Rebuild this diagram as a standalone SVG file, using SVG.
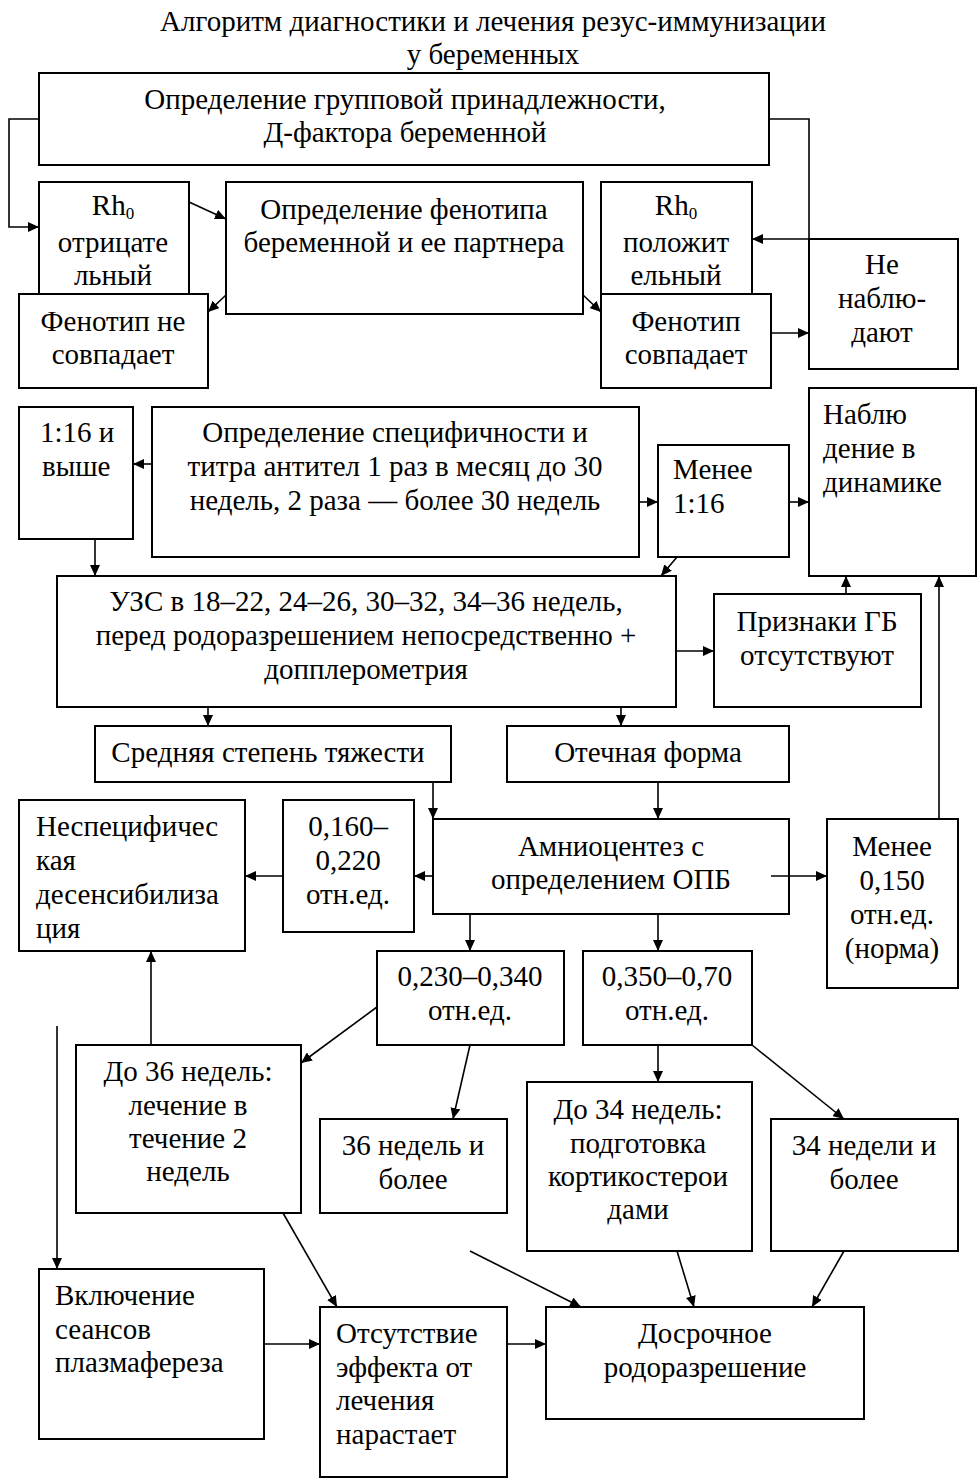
<svg xmlns="http://www.w3.org/2000/svg" width="979" height="1483" viewBox="0 0 979 1483">
<style>
rect{fill:#fff;stroke:#000;stroke-width:2}
text{font-family:"Liberation Serif","Times New Roman",serif;font-size:29px;fill:#000}
.c{text-anchor:middle}
#conn path{fill:none;stroke:#000;stroke-width:1.6;marker-end:url(#ah)}
</style>
<defs>
<marker id="ah" markerUnits="userSpaceOnUse" markerWidth="12" markerHeight="10" refX="11" refY="5" orient="auto">
<path d="M0,0 L11,5 L0,10 z" fill="#000"/>
</marker>
</defs>
<rect x="0" y="0" width="979" height="1483" style="stroke:none"/>
<g id="title">
<text class="c" x="493" y="31">Алгоритм диагностики и лечения резус-иммунизации</text>
<text class="c" x="493" y="64">у беременных</text>
</g>
<g id="n1"><rect x="39" y="73" width="730" height="92"/>
<text class="c" x="405" y="109">Определение групповой принадлежности,</text>
<text class="c" x="405" y="142">Д-фактора беременной</text></g>
<g id="n2"><rect x="39" y="182" width="150" height="112"/>
<text class="c" x="113" y="215">Rh<tspan font-size="17" dy="4">0</tspan></text>
<text class="c" x="113" y="252">отрицате</text>
<text class="c" x="113" y="285">льный</text></g>
<g id="n3"><rect x="19" y="294" width="189" height="94"/>
<text class="c" x="113" y="331">Фенотип не</text>
<text class="c" x="113" y="364">совпадает</text></g>
<g id="n4"><rect x="226" y="182" width="357" height="132"/>
<text class="c" x="404" y="219">Определение фенотипа</text>
<text class="c" x="404" y="252">беременной и ее партнера</text></g>
<g id="n5"><rect x="601" y="182" width="151" height="112"/>
<text class="c" x="676" y="215">Rh<tspan font-size="17" dy="4">0</tspan></text>
<text class="c" x="676" y="252">положит</text>
<text class="c" x="676" y="285">ельный</text></g>
<g id="n6"><rect x="601" y="294" width="170" height="94"/>
<text class="c" x="686" y="331">Фенотип</text>
<text class="c" x="686" y="364">совпадает</text></g>
<g id="n7"><rect x="809" y="239" width="149" height="130"/>
<text class="c" x="882" y="274">Не</text>
<text class="c" x="882" y="308">наблю-</text>
<text class="c" x="882" y="342">дают</text></g>
<g id="n8"><rect x="19" y="407" width="114" height="132"/>
<text x="40" y="442">1:16 и</text>
<text x="42" y="476">выше</text></g>
<g id="n9"><rect x="152" y="407" width="487" height="150"/>
<text class="c" x="395" y="442">Определение специфичности и</text>
<text class="c" x="395" y="476">титра антител 1 раз в месяц до 30</text>
<text class="c" x="395" y="510">недель, 2 раза — более 30 недель</text></g>
<g id="n10"><rect x="658" y="445" width="131" height="112"/>
<text x="673" y="479">Менее</text>
<text x="673" y="513">1:16</text></g>
<g id="n11"><rect x="809" y="388" width="167" height="188"/>
<text x="823" y="424">Наблю</text>
<text x="823" y="458">дение в</text>
<text x="823" y="492">динамике</text></g>
<g id="n12"><rect x="57" y="576" width="619" height="131"/>
<text class="c" x="366" y="611">УЗС в 18–22, 24–26, 30–32, 34–36 недель,</text>
<text class="c" x="366" y="645">перед родоразрешением непосредственно +</text>
<text class="c" x="366" y="679">допплерометрия</text></g>
<g id="n13"><rect x="714" y="594" width="207" height="113"/>
<text class="c" x="817" y="631">Признаки ГБ</text>
<text class="c" x="817" y="665">отсутствуют</text></g>
<g id="n14"><rect x="95" y="726" width="356" height="56"/>
<text class="c" x="268" y="762">Средняя степень тяжести</text></g>
<g id="n15"><rect x="507" y="726" width="282" height="56"/>
<text class="c" x="648" y="762">Отечная форма</text></g>
<g id="n16"><rect x="19" y="800" width="226" height="151"/>
<text x="36" y="836">Неспецифичес</text>
<text x="36" y="870">кая</text>
<text x="36" y="904">десенсибилиза</text>
<text x="36" y="938">ция</text></g>
<g id="n17"><rect x="283" y="800" width="131" height="132"/>
<text class="c" x="348" y="836">0,160–</text>
<text class="c" x="348" y="870">0,220</text>
<text class="c" x="348" y="904">отн.ед.</text></g>
<g id="n18"><rect x="433" y="819" width="356" height="95"/>
<text class="c" x="611" y="856">Амниоцентез с</text>
<text class="c" x="611" y="889">определением ОПБ</text></g>
<g id="n19"><rect x="827" y="819" width="131" height="169"/>
<text class="c" x="892" y="856">Менее</text>
<text class="c" x="892" y="890">0,150</text>
<text class="c" x="892" y="924">отн.ед.</text>
<text class="c" x="892" y="958">(норма)</text></g>
<g id="n20"><rect x="377" y="951" width="187" height="94"/>
<text class="c" x="470" y="986">0,230–0,340</text>
<text class="c" x="470" y="1020">отн.ед.</text></g>
<g id="n21"><rect x="583" y="951" width="169" height="94"/>
<text class="c" x="667" y="986">0,350–0,70</text>
<text class="c" x="667" y="1020">отн.ед.</text></g>
<g id="n22"><rect x="76" y="1045" width="225" height="168"/>
<text class="c" x="188" y="1081">До 36 недель:</text>
<text class="c" x="188" y="1115">лечение в</text>
<text class="c" x="188" y="1148">течение 2</text>
<text class="c" x="188" y="1181">недель</text></g>
<g id="n23"><rect x="320" y="1119" width="187" height="94"/>
<text class="c" x="413" y="1155">36 недель и</text>
<text class="c" x="413" y="1189">более</text></g>
<g id="n24"><rect x="527" y="1082" width="225" height="169"/>
<text class="c" x="638" y="1119">До 34 недель:</text>
<text class="c" x="638" y="1153">подготовка</text>
<text class="c" x="638" y="1186">кортикостерои</text>
<text class="c" x="638" y="1219">дами</text></g>
<g id="n25"><rect x="771" y="1119" width="187" height="132"/>
<text class="c" x="864" y="1155">34 недели и</text>
<text class="c" x="864" y="1189">более</text></g>
<g id="n26"><rect x="39" y="1269" width="225" height="170"/>
<text x="55" y="1305">Включение</text>
<text x="55" y="1339">сеансов</text>
<text x="55" y="1372">плазмафереза</text></g>
<g id="n27"><rect x="320" y="1307" width="187" height="170"/>
<text x="336" y="1343">Отсутствие</text>
<text x="336" y="1377">эффекта от</text>
<text x="336" y="1410">лечения</text>
<text x="336" y="1444">нарастает</text></g>
<g id="n28"><rect x="546" y="1307" width="318" height="112"/>
<text class="c" x="705" y="1343">Досрочное</text>
<text class="c" x="705" y="1377">родоразрешение</text></g>
<g id="conn">
<path d="M39,119 H9 V227 H39"/>
<path d="M769,119 H809 V239 H752"/>
<path d="M189,202 L226,219"/>
<path d="M226,295 L208,312"/>
<path d="M583,295 L601,312"/>
<path d="M771,333 H809"/>
<path d="M152,464 H133"/>
<path d="M639,502 H658"/>
<path d="M789,502 H809"/>
<path d="M95,539 V576"/>
<path d="M677,557 L661,576"/>
<path d="M676,651 H714"/>
<path d="M846,594 V576"/>
<path d="M939,819 V576"/>
<path d="M208,707 V726"/>
<path d="M621,707 V726"/>
<path d="M433,782 V819"/>
<path d="M658,782 V819"/>
<path d="M433,876 H414"/>
<path d="M283,876 H245"/>
<path d="M771,876 H827"/>
<path d="M470,914 V951"/>
<path d="M658,914 V951"/>
<path d="M151,1045 V951"/>
<path d="M57,1026 V1269"/>
<path d="M377,1007 L301,1063"/>
<path d="M470,1045 L453,1119"/>
<path d="M658,1045 V1082"/>
<path d="M752,1045 L844,1119"/>
<path d="M283,1213 L337,1307"/>
<path d="M264,1344 H320"/>
<path d="M507,1344 H546"/>
<path d="M470,1251 L581,1307"/>
<path d="M677,1251 L694,1307"/>
<path d="M844,1251 L812,1307"/>
</g>
</svg>
